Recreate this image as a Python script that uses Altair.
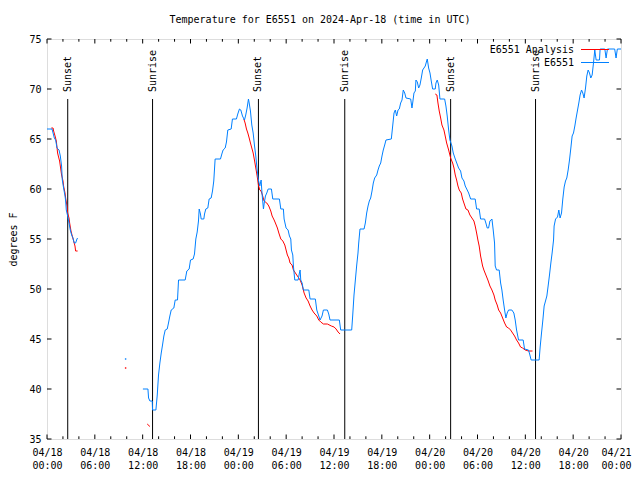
import altair as alt
import pandas as pd

TITLE = "Temperature for E6551 on 2024-Apr-18 (time in UTC)"
Y_TITLE = "degrees F"
SERIES = ["E6551 Analysis", "E6551"]
COLORS = ["#ff0000", "#0080ff"]
FONT = "DejaVu Sans Mono"

# hours since 2024-04-18 00:00 UTC, temperature in F
BLUE1_H = [0.0, 0.63, 0.76, 0.92, 1.08, 1.26, 1.51, 1.67, 1.83, 1.92, 2.08, 2.26, 2.34, 2.42, 2.59,
           2.76, 2.92, 3.09, 3.26, 3.42, 3.59, 3.76, 3.84]
BLUE1_T = [66.0, 66.0, 65.6, 65.1, 64.9, 64.1, 63.9, 63.3, 62.3, 60.9, 60.1, 59.3, 58.8, 57.9, 57.3,
           56.6, 55.9, 55.4, 55.1, 54.6, 54.6, 55.0, 55.1]

BLUE2_H = [12.03, 12.66, 12.74, 12.91, 13.2, 13.24, 13.66, 13.83, 13.99, 14.16, 14.33, 14.49, 14.66, 14.83,
           15.08, 15.24, 15.41, 15.58, 15.91, 16.08, 16.37, 16.5, 17.33, 17.54, 17.83, 18.0, 18.33, 18.5,
           18.67, 18.84, 19.0, 19.09, 19.25, 19.34, 19.67, 19.76, 19.92, 20.17, 20.34, 20.59, 20.76, 20.92,
           21.09, 21.76, 21.93, 22.09, 22.35, 22.51, 22.68, 23.1, 23.26, 23.76, 23.93, 24.14, 24.31, 24.52,
           24.77, 24.93, 25.1, 25.27, 25.36, 25.52, 25.69, 25.86, 26.02, 26.19, 26.36, 26.52, 26.69, 26.86,
           26.94, 27.0, 27.15, 27.25, 27.4, 27.57, 27.74, 28.15, 28.32, 29.15, 29.33, 29.65, 29.74, 29.99,
           30.24, 30.41, 30.58, 30.66, 30.83, 30.91, 31.08, 31.5, 31.66, 31.75, 31.83, 32.0, 32.16, 32.84,
           33.0, 33.66, 33.84, 34.09, 34.25, 34.5, 34.67, 35.17, 35.34, 35.5, 36.67, 36.84, 38.22,
           38.35, 38.51, 38.68, 38.85, 39.01, 39.1, 39.26, 39.77, 39.93, 40.1, 40.27, 40.43, 40.6, 40.77,
           40.93, 41.1, 41.36, 41.52, 41.68, 41.86, 42.02, 42.18, 42.36, 42.52, 43.19, 43.36, 43.53, 43.69,
           43.86, 44.03, 44.19, 44.36, 44.53, 44.69, 44.87, 45.03, 45.62, 45.78, 45.87, 46.03, 46.2, 46.28,
           46.45, 46.62, 46.78, 46.95, 47.12, 47.45, 47.62, 47.7, 47.87, 48.04, 48.2, 48.37, 48.7, 48.79,
           48.95, 49.13, 49.29, 49.88, 50.04, 50.2, 50.38, 50.54, 50.79, 50.96, 51.21, 51.63, 51.88, 52.05,
           52.3, 52.46, 52.71, 52.89, 53.14, 53.71, 53.89, 54.21, 54.39, 54.89, 55.05, 55.22, 55.39, 55.56,
           55.81, 55.97, 56.14, 56.22, 56.39, 56.72, 56.9, 57.06, 57.22, 57.4, 57.56, 57.72, 57.9, 58.31,
           58.56, 58.73, 58.9, 59.15, 59.73, 59.9, 60.4, 60.57, 60.73, 61.73, 61.86, 62.03, 62.2, 62.36,
           62.53, 62.7, 62.86, 63.03, 63.2, 63.36, 63.54, 63.61, 63.79, 64.04, 64.2, 64.36, 64.54, 64.7,
           64.87, 65.04, 65.2, 65.37, 65.54, 65.71, 65.87, 66.04, 66.21, 66.37, 66.55, 66.71, 66.87, 67.05,
           67.21, 67.37, 67.55, 67.71, 67.88, 68.05, 68.21, 68.38, 68.55, 68.71, 68.88, 69.3, 69.38, 69.97,
           70.13, 70.3, 71.21, 71.38, 71.54, 72.0]
BLUE2_T = [40.0, 40.0, 39.1, 38.8, 38.8, 37.9, 37.9, 39.4, 41.4, 42.6, 43.6, 44.4, 45.3, 45.9,
           46.0, 46.6, 47.3, 47.9, 48.1, 48.9, 48.9, 50.9, 50.9, 51.8, 52.0, 52.9, 53.0, 53.5,
           55.0, 55.7, 56.8, 58.0, 57.5, 57.0, 57.0, 57.5, 58.0, 58.1, 59.0, 59.1, 59.8, 60.8,
           63.0, 63.0, 63.5, 63.9, 64.1, 64.7, 65.9, 66.0, 67.0, 67.0, 67.5, 68.0, 67.9, 67.3,
           66.9, 67.4, 68.1, 69.0, 68.6, 67.8, 66.4, 65.6, 64.4, 63.3, 61.9, 60.9, 60.3, 60.9,
           59.9, 59.3, 58.0, 58.6, 59.3, 59.6, 60.0, 60.0, 59.0, 59.0, 58.0, 58.0, 57.0, 56.1,
           55.9, 55.3, 55.0, 53.9, 53.4, 52.3, 50.9, 50.9, 51.6, 51.9, 50.9, 50.6, 49.9, 49.9,
           49.0, 49.0, 47.9, 47.3, 46.9, 47.3, 47.9, 47.9, 47.5, 46.9, 46.9, 45.9, 45.9,
           47.4, 49.4, 50.9, 52.4, 53.6, 54.6, 56.0, 56.0, 56.6, 57.6, 58.3, 58.8, 59.1, 59.8,
           60.6, 61.1, 61.4, 61.9, 62.3, 62.6, 63.3, 63.9, 64.4, 64.9, 65.0, 66.3, 67.6, 67.9,
           67.3, 67.9, 68.0, 68.6, 68.9, 69.9, 69.6, 69.1, 69.0, 68.1, 68.6, 69.6, 69.8, 70.9,
           70.7, 70.1, 70.4, 71.1, 71.9, 72.3, 72.8, 73.0, 72.1, 71.6, 70.8, 70.0, 70.0, 70.6,
           70.9, 70.4, 69.0, 69.0, 68.3, 67.3, 65.9, 64.9, 64.3, 63.6, 63.0, 62.1, 61.8, 61.1,
           60.8, 60.3, 59.9, 59.6, 59.0, 59.0, 58.0, 58.0, 57.0, 57.0, 56.6, 56.1, 56.1, 56.8,
           57.0, 55.9, 54.6, 52.3, 51.9, 51.9, 50.6, 49.9, 48.9, 47.9, 47.1, 47.6, 47.9, 47.9,
           47.6, 46.9, 45.9, 44.9, 44.9, 44.0, 43.9, 43.4, 42.9, 42.9, 44.2, 45.6, 46.9, 48.3,
           48.8, 49.3, 50.3, 51.4, 52.6, 53.6, 54.9, 56.3, 57.0, 57.2, 57.9, 57.1, 57.6, 59.0,
           60.2, 60.8, 61.1, 61.9, 62.9, 64.1, 65.3, 65.6, 66.3, 67.1, 67.9, 68.6, 69.4, 69.9,
           69.6, 69.1, 70.1, 71.3, 71.9, 71.6, 71.1, 71.4, 72.6, 73.9, 72.9, 72.9, 74.0, 74.0,
           73.1, 74.0, 74.0, 73.1, 74.0, 74.0]

RED1_H = [0.54, 0.76, 0.83, 1.01, 1.17, 1.26, 1.33, 1.42, 1.58, 1.67, 1.83, 2.01, 2.08, 2.26, 2.34,
          2.51, 2.59, 2.76, 2.84, 3.01, 3.17, 3.34, 3.51, 3.59, 3.84]
RED1_T = [66.1, 66.1, 65.8, 65.3, 64.8, 64.1, 63.6, 63.3, 62.8, 62.3, 61.4, 60.8, 60.3, 59.6, 59.1,
          58.3, 57.6, 57.1, 56.6, 55.8, 55.3, 54.8, 54.3, 53.8, 53.8]

RED2_H = [12.57, 12.91]
RED2_T = [36.5, 36.25]

RED3_H = [24.69, 24.85, 25.02, 25.19, 25.36, 25.52, 25.69, 25.86, 26.02, 26.19, 26.36, 26.52, 26.69,
          26.85, 27.02, 27.23, 27.57, 27.82, 28.07, 28.24, 28.49, 28.65, 28.9, 29.08, 29.33, 29.58,
          29.83, 29.99, 30.15, 30.33, 30.49, 30.74, 30.91, 31.16, 31.41, 31.75, 32.0, 32.25, 32.5,
          32.75, 33.0, 33.25, 33.5, 33.84, 34.09, 34.34, 34.67, 35.17, 35.67, 36.01, 36.26, 36.51, 36.76]
RED3_T = [67.0, 66.6, 66.0, 65.6, 65.1, 64.6, 64.1, 63.6, 62.9, 62.1, 61.3, 60.4, 59.9,
          59.8, 59.4, 58.8, 58.6, 58.3, 57.8, 57.3, 56.9, 56.6, 56.1, 55.6, 55.0, 54.8,
          54.4, 53.9, 53.4, 53.1, 52.6, 52.4, 51.9, 51.6, 51.3, 50.9, 50.4, 49.6, 49.1,
          48.8, 48.3, 47.9, 47.6, 47.3, 46.9, 46.7, 46.5, 46.5, 46.3, 46.2, 46.0, 45.7, 45.5]

RED4_H = [48.7, 48.91, 49.04, 49.2, 49.38, 49.54, 49.79, 49.95, 50.13, 50.38, 50.63, 50.88, 51.05,
          51.21, 51.38, 51.55, 51.71, 51.96, 52.13, 52.38, 52.55, 52.8, 53.05, 53.3, 53.55, 53.71,
          53.89, 54.05, 54.21, 54.39, 54.64, 54.8, 55.05, 55.3, 55.56, 55.81, 56.06, 56.22, 56.47,
          56.65, 56.9, 57.15, 57.4, 57.65, 57.9, 58.15, 58.4, 58.65, 58.9, 59.15, 59.4, 59.65, 59.98,
          60.4, 60.9]
RED4_T = [69.5, 69.4, 68.6, 67.8, 67.1, 66.4, 65.9, 65.3, 64.6, 63.9, 63.1, 62.6, 62.1,
          61.4, 60.9, 60.3, 59.9, 59.6, 59.0, 58.4, 58.0, 57.9, 57.4, 57.1, 56.8, 56.3,
          55.6, 54.9, 54.3, 53.3, 52.3, 51.9, 51.4, 50.9, 50.3, 49.9, 49.4, 48.9, 48.4,
          47.9, 47.6, 47.1, 46.6, 46.2, 46.1, 45.9, 45.6, 45.3, 44.9, 44.6, 44.2, 44.1, 43.9,
          43.8, 43.8]

# isolated single readings
DOT_H = [9.86, 9.86]
DOT_T = [42.1, 43.0]
DOT_SERIES = ["E6551 Analysis", "E6551"]

SUN_H = [2.6, 13.24, 26.52, 37.35, 50.63, 61.28]
SUN_LABEL = ["Sunset", "Sunrise", "Sunset", "Sunrise", "Sunset", "Sunrise"]
SUN_TOP = 69.0
SUN_BOTTOM = 35.0

X_MAJOR = [0, 6, 12, 18, 24, 30, 36, 42, 48, 54, 60, 66, 72]
X_MINOR = [2, 4, 8, 10, 14, 16, 20, 22, 26, 28, 32, 34, 38, 40, 44, 46, 50, 52, 56, 58, 62, 64, 68, 70]
X_DAYS = ["04/18", "04/19", "04/20", "04/21"]
X_TIMES = ["00:00", "06:00", "12:00", "18:00"]
Y_TICKS = [35, 40, 45, 50, 55, 60, 65, 70, 75]

W, H = 574, 400


def seg(hours, temps, series, name):
    return pd.DataFrame({"hour": hours, "temp": temps, "series": series, "seg": name})


red_df = pd.concat([seg(RED1_H, RED1_T, SERIES[0], "r1"), seg(RED2_H, RED2_T, SERIES[0], "r2"),
                    seg(RED3_H, RED3_T, SERIES[0], "r3"), seg(RED4_H, RED4_T, SERIES[0], "r4")])
blue_df = pd.concat([seg(BLUE1_H, BLUE1_T, SERIES[1], "b1"), seg(BLUE2_H, BLUE2_T, SERIES[1], "b2")])
dot_df = pd.DataFrame({"hour": DOT_H, "temp": DOT_T, "series": DOT_SERIES})
sun_df = pd.DataFrame({"hour": SUN_H, "label": SUN_LABEL, "top": SUN_TOP, "bottom": SUN_BOTTOM})
xmaj_df = pd.DataFrame({"hour": X_MAJOR})
xmin_df = pd.DataFrame({"hour": X_MINOR})
yt_df = pd.DataFrame({"temp": Y_TICKS})
one_df = pd.DataFrame({"k": [0]})

days_js = "[" + ",".join("'%s'" % d for d in X_DAYS) + "]"
times_js = "[" + ",".join("'%s'" % t for t in X_TIMES) + "]"
label_expr = "[%s[floor(datum.value/24)], %s[floor(datum.value/6) %% 4]]" % (days_js, times_js)

x_scale = alt.Scale(domain=[0, 72], nice=False, zero=False)
y_scale = alt.Scale(domain=[35, 75], nice=False, zero=False)
color_scale = alt.Scale(domain=SERIES, range=COLORS)

x_axis = alt.Axis(values=X_MAJOR, labelExpr=label_expr, ticks=False, domain=False, grid=False,
                  labelFont=FONT, labelFontSize=10, labelColor="black", labelPadding=8,
                  labelLineHeight=13.5, labelBaseline="top", labelFlush=False, labelOverlap=False,
                  labelOffset={"condition": {"test": "datum.value == 72", "value": -5}, "value": 0},
                  title=None)
y_axis = alt.Axis(values=Y_TICKS, ticks=False, domain=False, grid=False, labelFont=FONT,
                  labelFontSize=10, labelColor="black", labelPadding=6, labelOverlap=False,
                  labelFlush=False, title=Y_TITLE, titleFont=FONT, titleFontSize=10,
                  titleFontWeight="normal", titleColor="black", titleAngle=270, titleX=-34,
                  titleY=H / 2, titleAlign="center", titleBaseline="middle")

X = alt.X("hour:Q", scale=x_scale, axis=x_axis)
Y = alt.Y("temp:Q", scale=y_scale, axis=y_axis)

sun_rules = alt.Chart(sun_df).mark_rule(color="black", strokeWidth=1).encode(
    x=X, y=alt.Y("top:Q", scale=y_scale, axis=y_axis), y2="bottom:Q")
sun_text = alt.Chart(sun_df).mark_text(angle=270, align="left", baseline="middle", font=FONT,
                                       fontSize=10, color="black").encode(
    x=X, y=alt.value(53), text="label:N")

red_line = alt.Chart(red_df).mark_line(strokeWidth=1).encode(
    x=X, y=Y, detail="seg:N", color=alt.Color("series:N", scale=color_scale, legend=None))
blue_line = alt.Chart(blue_df).mark_line(strokeWidth=1).encode(
    x=X, y=Y, detail="seg:N", color=alt.Color("series:N", scale=color_scale, legend=None))
dots = alt.Chart(dot_df).mark_square(size=2, opacity=1).encode(
    x=X, y=Y, color=alt.Color("series:N", scale=color_scale, legend=None))

tick_bot_maj = alt.Chart(xmaj_df).mark_rule(color="black").encode(x=X, y=alt.value(H), y2=alt.value(H - 4.5))
tick_bot_min = alt.Chart(xmin_df).mark_rule(color="black").encode(x=X, y=alt.value(H), y2=alt.value(H - 2.7))
tick_top_maj = alt.Chart(xmaj_df).mark_rule(color="black").encode(x=X, y=alt.value(0), y2=alt.value(4.5))
tick_top_min = alt.Chart(xmin_df).mark_rule(color="black").encode(x=X, y=alt.value(0), y2=alt.value(2.7))
tick_left = alt.Chart(yt_df).mark_rule(color="black").encode(y=Y, x=alt.value(0), x2=alt.value(4.5))
tick_right = alt.Chart(yt_df).mark_rule(color="black").encode(y=Y, x=alt.value(W - 4.5), x2=alt.value(W))

# chart title, centred on the whole canvas like gnuplot
title_text = alt.Chart(one_df).mark_text(text=TITLE, align="center", baseline="alphabetic",
                                         font=FONT, fontSize=10, color="black").encode(
    x=alt.value(273), y=alt.value(-16))

# legend (gnuplot style: label left of sample line)
LEG_TEXT_X = 527
LEG_LINE_X = (534, 562)
LEG_Y = (11, 24)
legend_layers = []
for i, (name, col) in enumerate(zip(SERIES, COLORS)):
    legend_layers.append(alt.Chart(one_df).mark_text(text=name, align="right", baseline="middle",
                                                    font=FONT, fontSize=10, color="black").encode(
        x=alt.value(LEG_TEXT_X), y=alt.value(LEG_Y[i])))
    legend_layers.append(alt.Chart(one_df).mark_rule(color=col, strokeWidth=1).encode(
        x=alt.value(LEG_LINE_X[0]), x2=alt.value(LEG_LINE_X[1]), y=alt.value(LEG_Y[i] - 0.5)))

chart = alt.layer(
    sun_rules, sun_text, red_line, blue_line, dots,
    tick_bot_maj, tick_bot_min, tick_top_maj, tick_top_min, tick_left, tick_right,
    title_text, *legend_layers
).properties(
    width=W, height=H,
    autosize=alt.AutoSizeParams(type="none"),
    padding={"left": 39, "top": 31, "right": 11, "bottom": 33},
).configure_view(stroke="black", strokeWidth=1).configure(background="white")

chart.save("out.html", embed_options={"renderer": "svg", "actions": False})
